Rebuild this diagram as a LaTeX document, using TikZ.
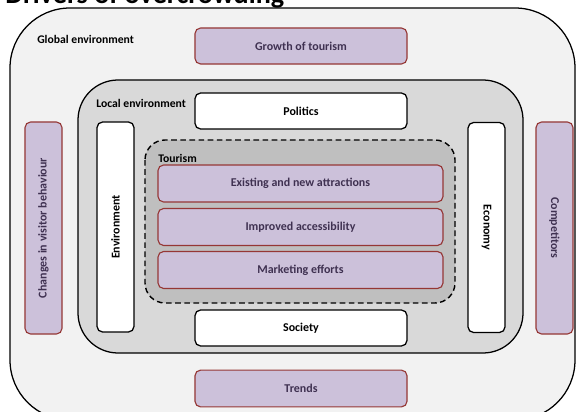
\documentclass[tikz,border=0pt]{standalone}
\usepackage{fontspec}
\setmainfont{Carlito}
\usepackage{tikz}

\definecolor{lavender}{HTML}{CCC1DA}
\definecolor{redline}{HTML}{953735}
\definecolor{plumtext}{HTML}{3F3151}
\definecolor{globalfill}{HTML}{F2F2F2}
\definecolor{localfill}{HTML}{D9D9D9}
\definecolor{tourfill}{HTML}{BFBFBF}

\tikzset{
  drivebox/.style={draw=redline, fill=lavender, rounded corners=4pt, line width=0.8pt,
    text=plumtext, font=\fontsize{8.5}{10}\selectfont\bfseries, inner sep=0pt},
  localbox/.style={draw=black, fill=white, rounded corners=4pt, line width=0.9pt,
    font=\fontsize{8.5}{10}\selectfont\bfseries, inner sep=0pt},
  arealabel/.style={anchor=west, font=\fontsize{8.3}{10}\selectfont\bfseries, inner sep=0pt},
}

\begin{document}
\begin{tikzpicture}[x=0.025cm, y=-0.025cm]
    \useasboundingbox (0,0) rectangle (576,412);
    % title, cut at the top edge
    \node[anchor=base west, inner sep=0pt, font=\fontsize{20}{24}\selectfont\bfseries] (title) at (5,4) {Drivers of overcrowding};
    % nested areas
    \draw[fill=globalfill, line width=0.9pt, rounded corners=1.5cm] (10,8) rectangle (575,420);
    \draw[fill=localfill, line width=0.9pt, rounded corners=1cm] (78,80) rectangle (523,353);
    \draw[fill=tourfill, line width=1pt, dash pattern=on 4pt off 2.5pt, rounded corners=0.5cm] (145,140) rectangle (455,303);
    \node[arealabel] (globallabel) at (37,39) {Global environment};
    \node[arealabel] (locallabel) at (96,103) {Local environment};
    \node[arealabel] (tourlabel) at (158,158) {Tourism};
    % global drivers
    \node[drivebox, minimum width=5.3cm, minimum height=0.9cm] (growth) at (301,46) {Growth of tourism};
    \node[drivebox, minimum width=5.3cm, minimum height=0.92cm] (trends) at (301,388.5) {Trends};
    \node[drivebox, rotate=90, minimum width=5.3cm, minimum height=0.925cm] (behaviour) at (43.5,228) {Changes in visitor behaviour};
    \node[drivebox, rotate=-90, minimum width=5.3cm, minimum height=0.925cm] (competitors) at (554.5,228) {Competitors};
    % local drivers
    \node[localbox, minimum width=5.3cm, minimum height=0.9cm] (politics) at (301,111) {Politics};
    \node[localbox, minimum width=5.3cm, minimum height=0.9cm] (society) at (301,328) {Society};
    \node[localbox, rotate=90, minimum width=5.25cm, minimum height=0.925cm] (environment) at (115.5,227) {Environment};
    \node[localbox, rotate=-90, minimum width=5.25cm, minimum height=0.925cm] (economy) at (486.5,227.5) {Economy};
    % tourism drivers
    \node[drivebox, minimum width=7.125cm, minimum height=0.925cm] (attractions) at (300.5,183.5) {Existing and new attractions};
    \node[drivebox, minimum width=7.125cm, minimum height=0.925cm] (access) at (300.5,227) {Improved accessibility};
    \node[drivebox, minimum width=7.125cm, minimum height=0.925cm] (marketing) at (300.5,270) {Marketing efforts};
\end{tikzpicture}
\end{document}
